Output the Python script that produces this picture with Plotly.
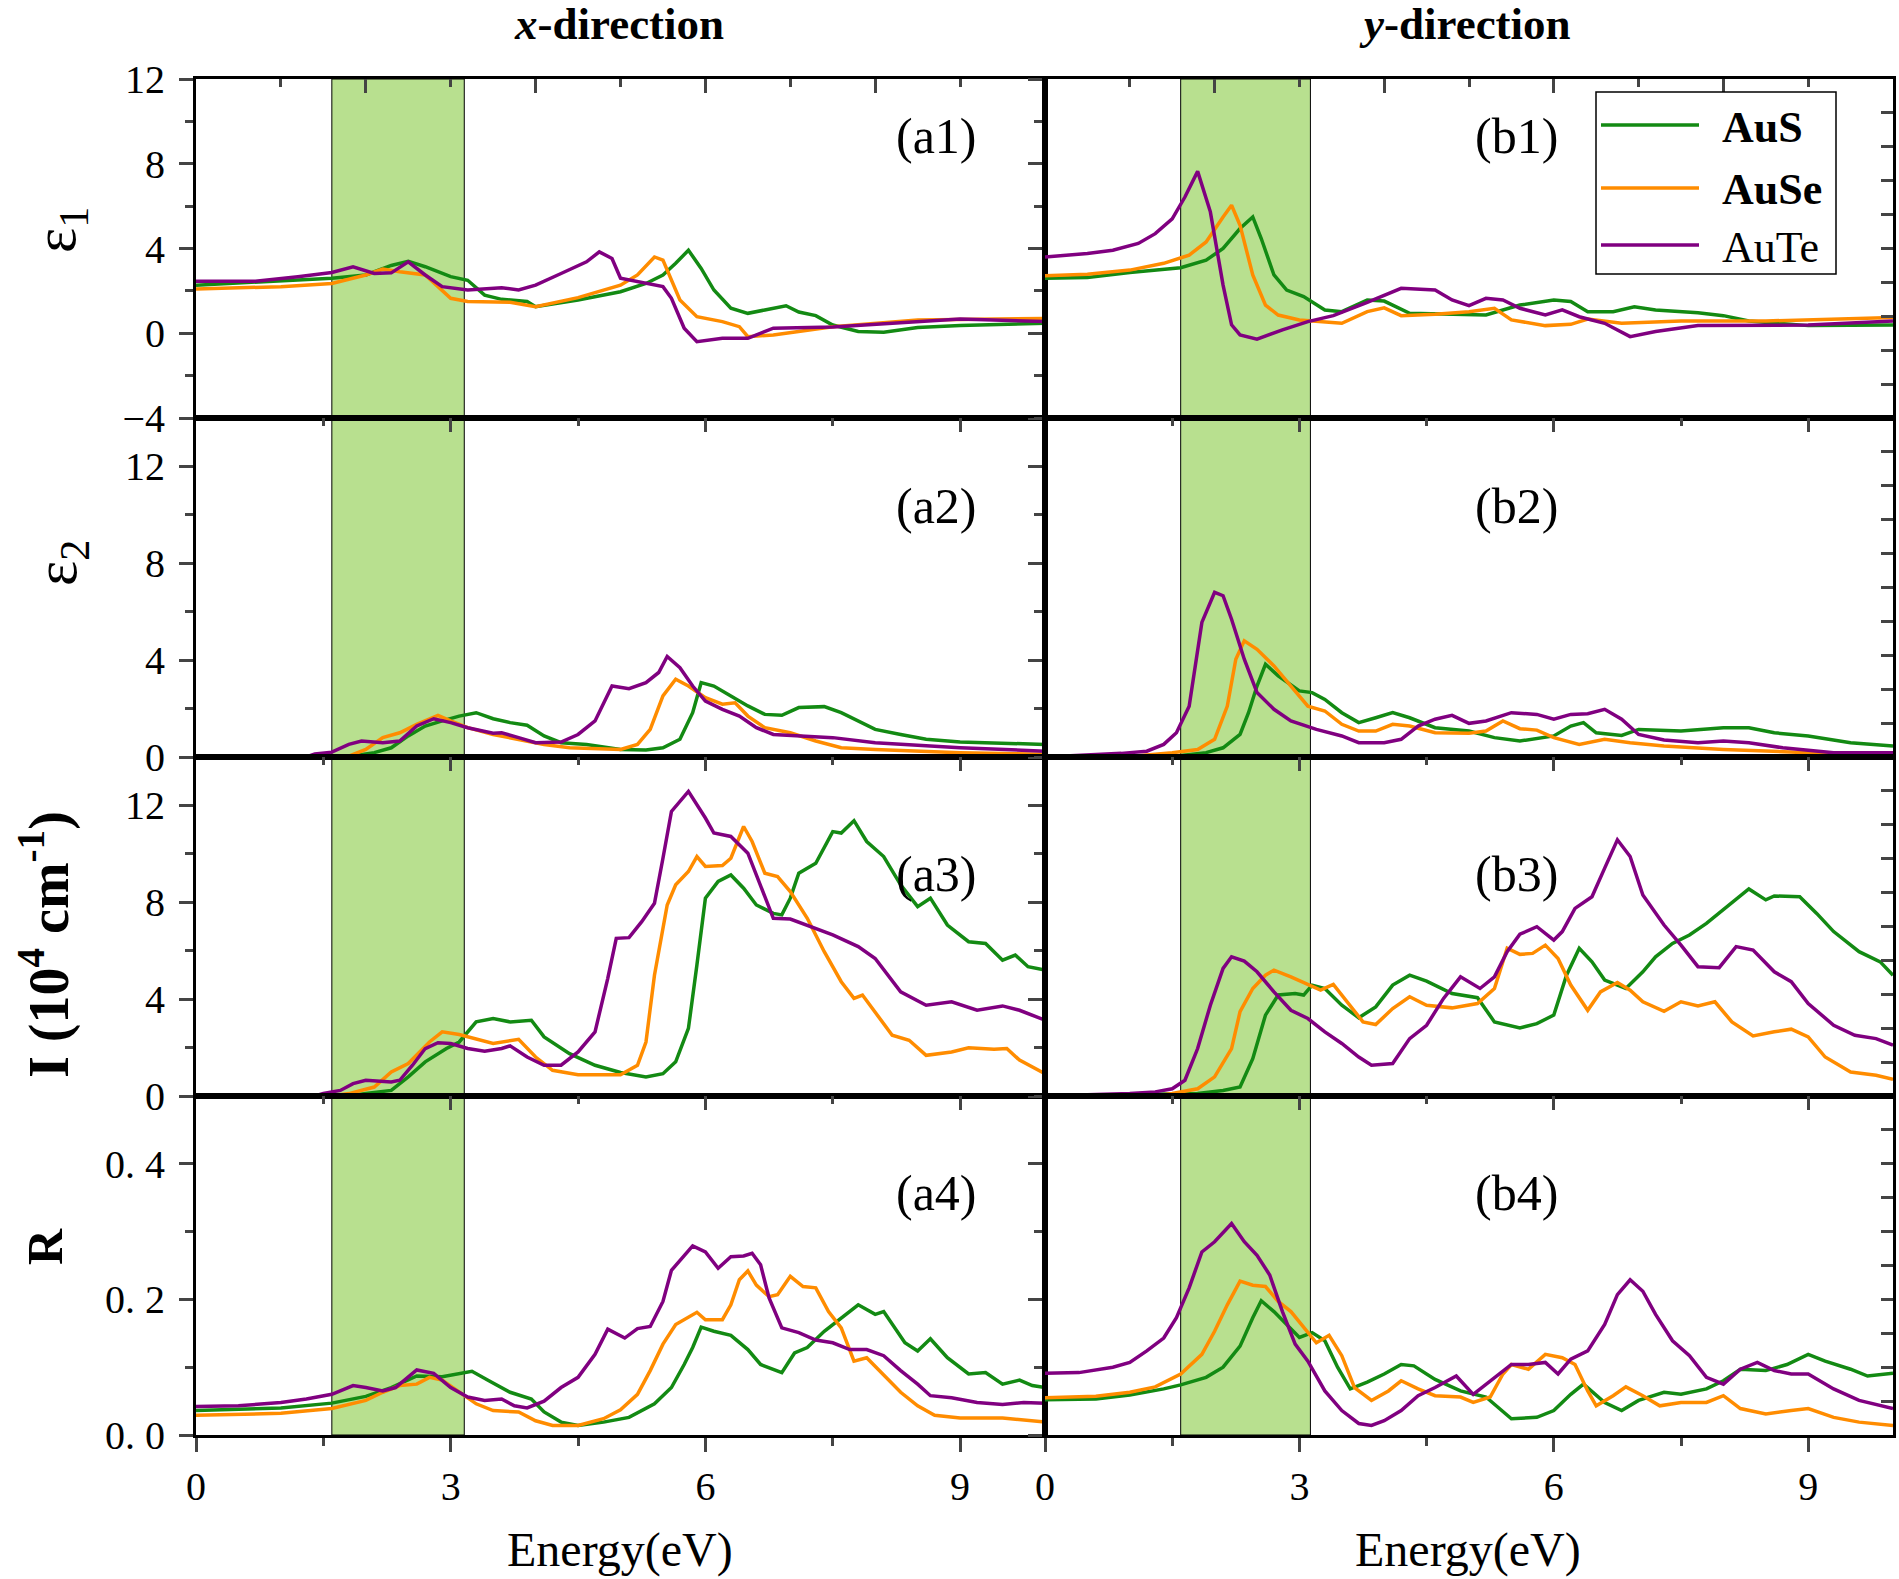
import plotly.graph_objects as go

# ---- data (energy in eV) ----
materials = ["AuS", "AuSe", "AuTe"]
legend_bold = [True, True, False]
colors = ["#138a13", "#ff8c00", "#800080"]

# (a1) eps1, x-direction
a1_aus_e = [0, 1.2, 1.6, 2.0, 2.3, 2.5, 2.7, 3.0, 3.2, 3.4, 3.6, 3.9, 4.0, 4.5, 5.0, 5.3, 5.5, 5.65, 5.8, 5.95, 6.1, 6.3, 6.5, 6.7, 6.95, 7.1, 7.3, 7.5, 7.8, 8.1, 8.5, 9.0, 10]
a1_aus = [2.27, 2.5, 2.6, 2.75, 3.2, 3.4, 3.14, 2.67, 2.5, 1.8, 1.6, 1.5, 1.25, 1.57, 1.96, 2.35, 2.75, 3.3, 3.92, 3.06, 2.04, 1.18, 0.94, 1.1, 1.3, 1.0, 0.83, 0.39, 0.08, 0.05, 0.27, 0.36, 0.47]
a1_ause_e = [0, 1.0, 1.6, 2.0, 2.2, 2.4, 2.7, 2.85, 3.0, 3.2, 3.7, 4.0, 4.5, 5.0, 5.2, 5.4, 5.5, 5.7, 5.9, 6.2, 6.4, 6.5, 6.8, 7.5, 8.5, 10]
a1_ause = [2.09, 2.2, 2.35, 2.75, 3.03, 2.9, 2.75, 2.2, 1.65, 1.5, 1.46, 1.25, 1.68, 2.27, 2.75, 3.6, 3.45, 1.57, 0.78, 0.55, 0.31, -0.16, -0.08, 0.31, 0.63, 0.7]
a1_aute_e = [0, 0.7, 1.2, 1.6, 1.85, 2.1, 2.3, 2.5, 2.7, 2.9, 3.2, 3.6, 3.8, 4.0, 4.3, 4.6, 4.75, 4.9, 5.0, 5.2, 5.5, 5.6, 5.75, 5.9, 6.2, 6.5, 6.8, 7.5, 8.5, 9.0, 10]
a1_aute = [2.45, 2.45, 2.67, 2.87, 3.14, 2.82, 2.85, 3.37, 2.75, 2.2, 2.04, 2.15, 2.04, 2.27, 2.82, 3.37, 3.84, 3.53, 2.6, 2.43, 2.2, 1.65, 0.24, -0.4, -0.24, -0.24, 0.24, 0.3, 0.55, 0.67, 0.55]

# (b1) eps1, y-direction
b1_aus_e = [0, 0.5, 1.0, 1.6, 1.9, 2.1, 2.3, 2.45, 2.55, 2.7, 2.85, 3.05, 3.3, 3.5, 3.8, 4.0, 4.3, 4.7, 5.2, 5.6, 6.0, 6.2, 6.4, 6.7, 6.95, 7.2, 7.7, 8.0, 8.3, 9.0, 10]
b1_aus = [2.59, 2.63, 2.87, 3.09, 3.45, 4.0, 4.94, 5.49, 4.47, 2.75, 2.04, 1.73, 1.1, 1.02, 1.57, 1.52, 0.94, 0.9, 0.86, 1.33, 1.57, 1.5, 1.02, 1.02, 1.25, 1.1, 0.97, 0.83, 0.58, 0.36, 0.39]
b1_ause_e = [0, 0.5, 1.0, 1.4, 1.7, 1.9, 2.1, 2.2, 2.3, 2.45, 2.6, 2.75, 3.0, 3.3, 3.5, 3.8, 4.0, 4.2, 4.6, 5.0, 5.3, 5.5, 5.9, 6.2, 6.4, 6.8, 7.5, 8.5, 10]
b1_ause = [2.71, 2.79, 2.98, 3.3, 3.69, 4.31, 5.49, 6.04, 5.1, 2.75, 1.33, 0.86, 0.63, 0.55, 0.47, 1.02, 1.2, 0.83, 0.9, 1.02, 1.18, 0.63, 0.36, 0.42, 0.67, 0.47, 0.58, 0.58, 0.74]
b1_aute_e = [0, 0.5, 0.8, 1.1, 1.3, 1.5, 1.65, 1.8, 1.95, 2.1, 2.2, 2.3, 2.5, 2.8, 3.1, 3.4, 3.8, 4.2, 4.6, 4.8, 5.0, 5.2, 5.4, 5.6, 5.9, 6.1, 6.3, 6.6, 6.9, 7.2, 7.7, 8.5, 9.0, 10]
b1_aute = [3.6, 3.76, 3.92, 4.24, 4.7, 5.4, 6.43, 7.64, 5.73, 2.27, 0.4, -0.08, -0.28, 0.16, 0.55, 0.83, 1.46, 2.12, 2.04, 1.57, 1.3, 1.65, 1.57, 1.18, 0.86, 1.1, 0.78, 0.47, -0.16, 0.08, 0.36, 0.39, 0.39, 0.58]

# (a2) eps2, x-direction
a2_aus_e = [0, 1.6, 1.8, 2.1, 2.3, 2.5, 2.7, 2.9, 3.1, 3.3, 3.5, 3.7, 3.9, 4.1, 4.3, 4.6, 5.0, 5.3, 5.5, 5.7, 5.85, 5.95, 6.1, 6.3, 6.5, 6.7, 6.9, 7.1, 7.4, 7.6, 7.8, 8.0, 8.3, 8.6, 9.0, 10]
a2_aus = [0, 0, 0.02, 0.18, 0.38, 0.87, 1.28, 1.49, 1.69, 1.83, 1.58, 1.42, 1.31, 0.87, 0.59, 0.52, 0.31, 0.29, 0.38, 0.73, 1.83, 3.07, 2.93, 2.52, 2.11, 1.76, 1.72, 2.04, 2.08, 1.83, 1.49, 1.14, 0.93, 0.73, 0.62, 0.52]
a2_ause_e = [0, 1.6, 1.8, 2.0, 2.2, 2.4, 2.6, 2.85, 3.0, 3.2, 3.5, 3.8, 4.1, 4.4, 5.0, 5.2, 5.35, 5.5, 5.65, 5.8, 6.0, 6.2, 6.35, 6.5, 6.7, 7.0, 7.3, 7.6, 8.0, 9.0, 10]
a2_ause = [0, 0, 0.04, 0.31, 0.8, 1.0, 1.35, 1.72, 1.49, 1.21, 0.93, 0.73, 0.52, 0.38, 0.31, 0.52, 1.14, 2.52, 3.21, 2.93, 2.45, 2.18, 2.24, 1.69, 1.21, 1.0, 0.66, 0.38, 0.31, 0.18, 0.11]
a2_aute_e = [0, 1.3, 1.4, 1.6, 1.8, 1.95, 2.2, 2.4, 2.6, 2.8, 3.0, 3.2, 3.5, 3.6, 3.8, 4.0, 4.3, 4.5, 4.7, 4.9, 5.1, 5.3, 5.45, 5.55, 5.7, 5.85, 6.0, 6.2, 6.4, 6.6, 6.8, 7.5, 8.0, 9.0, 10]
a2_aute = [0, 0, 0.13, 0.2, 0.52, 0.66, 0.59, 0.66, 1.28, 1.58, 1.42, 1.21, 0.98, 1.0, 0.8, 0.59, 0.62, 0.93, 1.49, 2.93, 2.82, 3.07, 3.49, 4.15, 3.69, 2.93, 2.31, 1.97, 1.69, 1.21, 0.93, 0.8, 0.59, 0.38, 0.24]

# (b2) eps2, y-direction
b2_aus_e = [0, 1.5, 1.9, 2.1, 2.3, 2.4, 2.5, 2.6, 2.75, 2.9, 3.0, 3.15, 3.3, 3.5, 3.7, 3.9, 4.1, 4.3, 4.6, 5.0, 5.3, 5.6, 6.0, 6.2, 6.35, 6.5, 6.8, 7.0, 7.5, 8.0, 8.3, 8.6, 9.0, 9.5, 10]
b2_aus = [0, 0.02, 0.18, 0.38, 0.93, 1.83, 2.93, 3.83, 3.35, 3.0, 2.73, 2.66, 2.38, 1.83, 1.42, 1.62, 1.83, 1.62, 1.21, 1.07, 0.8, 0.66, 0.87, 1.28, 1.42, 1.0, 0.89, 1.14, 1.07, 1.21, 1.21, 1.0, 0.87, 0.59, 0.45]
b2_ause_e = [0, 1.0, 1.5, 1.8, 2.0, 2.15, 2.25, 2.35, 2.5, 2.7, 2.9, 3.1, 3.3, 3.5, 3.7, 3.9, 4.1, 4.3, 4.6, 5.0, 5.2, 5.4, 5.6, 5.8, 6.0, 6.3, 6.6, 6.9, 7.3, 8.0, 9.0, 10]
b2_ause = [0, 0.02, 0.18, 0.31, 0.73, 2.1, 4.04, 4.8, 4.45, 3.76, 2.93, 2.1, 1.9, 1.35, 1.07, 1.07, 1.35, 1.28, 1.0, 0.98, 1.07, 1.49, 1.17, 1.11, 0.8, 0.52, 0.73, 0.59, 0.45, 0.31, 0.18, 0.07]
b2_aute_e = [0, 0.9, 1.2, 1.4, 1.55, 1.7, 1.85, 2.0, 2.1, 2.2, 2.35, 2.5, 2.7, 2.9, 3.2, 3.5, 3.7, 4.0, 4.2, 4.4, 4.6, 4.8, 5.0, 5.2, 5.5, 5.8, 6.0, 6.2, 6.4, 6.6, 6.8, 7.0, 7.3, 7.7, 8.0, 8.3, 8.7, 9.3, 10]
b2_aute = [0, 0.15, 0.24, 0.52, 1.0, 2.1, 5.56, 6.8, 6.66, 5.69, 4.04, 2.66, 1.97, 1.49, 1.14, 0.87, 0.59, 0.59, 0.73, 1.28, 1.56, 1.72, 1.39, 1.49, 1.83, 1.76, 1.56, 1.76, 1.79, 1.97, 1.56, 0.93, 0.7, 0.59, 0.66, 0.59, 0.38, 0.18, 0.18]

# (a3) absorption I (10^4 cm^-1), x-direction
a3_aus_e = [0, 1.8, 2.0, 2.3, 2.5, 2.7, 2.95, 3.1, 3.3, 3.5, 3.7, 3.95, 4.1, 4.4, 4.7, 5.0, 5.3, 5.5, 5.65, 5.8, 5.9, 6.0, 6.15, 6.3, 6.45, 6.6, 6.8, 6.9, 7.0, 7.1, 7.3, 7.5, 7.6, 7.75, 7.9, 8.1, 8.3, 8.5, 8.65, 8.85, 9.1, 9.3, 9.5, 9.65, 9.8, 10]
a3_aus = [0, 0, 0.1, 0.23, 0.79, 1.41, 1.96, 2.23, 3.06, 3.2, 3.06, 3.13, 2.44, 1.75, 1.27, 0.97, 0.79, 0.92, 1.41, 2.79, 5.41, 8.17, 8.86, 9.13, 8.58, 7.89, 7.54, 7.48, 8.17, 9.2, 9.61, 10.92, 10.86, 11.37, 10.51, 9.89, 8.72, 7.82, 8.17, 7.06, 6.37, 6.3, 5.61, 5.82, 5.34, 5.2]
a3_ause_e = [0, 1.6, 1.8, 2.1, 2.3, 2.5, 2.75, 2.9, 3.1, 3.3, 3.5, 3.8, 4.0, 4.2, 4.5, 5.0, 5.2, 5.3, 5.4, 5.55, 5.65, 5.8, 5.9, 6.0, 6.2, 6.3, 6.45, 6.55, 6.7, 6.85, 7.0, 7.2, 7.4, 7.6, 7.75, 7.85, 8.0, 8.2, 8.4, 8.6, 8.9, 9.1, 9.4, 9.55, 9.7, 10]
a3_ause = [0, 0, 0.1, 0.37, 0.99, 1.34, 2.23, 2.65, 2.54, 2.34, 2.17, 2.34, 1.61, 1.06, 0.88, 0.88, 1.27, 2.23, 4.99, 7.89, 8.72, 9.27, 9.89, 9.48, 9.52, 9.82, 11.13, 10.51, 9.2, 9.06, 8.44, 7.34, 5.96, 4.72, 4.03, 4.17, 3.48, 2.51, 2.3, 1.68, 1.82, 1.99, 1.93, 1.96, 1.48, 0.92]
a3_aute_e = [0, 1.4, 1.5, 1.7, 1.85, 2.0, 2.3, 2.4, 2.55, 2.7, 2.85, 3.0, 3.2, 3.4, 3.6, 3.7, 3.9, 4.1, 4.3, 4.5, 4.7, 4.85, 4.95, 5.1, 5.25, 5.4, 5.5, 5.6, 5.8, 6.0, 6.1, 6.3, 6.5, 6.65, 6.8, 7.0, 7.3, 7.5, 7.8, 8.0, 8.3, 8.6, 8.9, 9.2, 9.5, 9.7, 10]
a3_aute = [0, 0, 0.1, 0.23, 0.51, 0.65, 0.58, 0.65, 1.27, 1.96, 2.2, 2.17, 1.96, 1.85, 1.96, 2.07, 1.61, 1.27, 1.27, 1.82, 2.65, 4.86, 6.51, 6.54, 7.2, 7.96, 9.82, 11.75, 12.58, 11.48, 10.86, 10.72, 10.03, 8.72, 7.34, 7.31, 6.92, 6.65, 6.17, 5.68, 4.3, 3.75, 3.89, 3.54, 3.72, 3.54, 3.13]

# (b3) absorption I, y-direction
b3_aus_e = [0, 1.8, 2.1, 2.3, 2.45, 2.6, 2.75, 2.95, 3.05, 3.15, 3.3, 3.5, 3.7, 3.9, 4.1, 4.3, 4.5, 4.8, 5.1, 5.3, 5.6, 5.8, 6.0, 6.15, 6.3, 6.45, 6.6, 6.85, 7.05, 7.2, 7.4, 7.6, 7.8, 8.0, 8.3, 8.5, 8.6, 8.9, 9.1, 9.3, 9.6, 9.85, 10]
b3_aus = [0, 0.1, 0.23, 0.37, 1.54, 3.34, 4.17, 4.23, 4.17, 4.58, 4.44, 3.75, 3.23, 3.68, 4.58, 4.99, 4.74, 4.23, 4.06, 3.06, 2.81, 2.99, 3.34, 4.99, 6.1, 5.54, 4.79, 4.44, 5.13, 5.75, 6.3, 6.65, 7.13, 7.68, 8.55, 8.1, 8.26, 8.23, 7.54, 6.79, 5.96, 5.54, 4.99]
b3_ause_e = [0, 1.3, 1.5, 1.8, 2.0, 2.2, 2.3, 2.45, 2.6, 2.7, 2.9, 3.1, 3.25, 3.4, 3.6, 3.75, 3.9, 4.1, 4.3, 4.5, 4.8, 5.1, 5.3, 5.45, 5.6, 5.75, 5.9, 6.05, 6.2, 6.4, 6.55, 6.75, 6.9, 7.05, 7.3, 7.5, 7.7, 7.9, 8.1, 8.35, 8.6, 8.8, 9.0, 9.2, 9.5, 9.8, 10]
b3_ause = [0, 0, 0.1, 0.3, 0.79, 1.96, 3.48, 4.44, 4.99, 5.2, 4.92, 4.61, 4.37, 4.61, 3.75, 3.06, 2.95, 3.61, 4.1, 3.75, 3.64, 3.82, 4.44, 6.1, 5.85, 5.89, 6.23, 5.68, 4.58, 3.54, 4.3, 4.69, 4.37, 3.89, 3.5, 3.89, 3.72, 3.89, 3.06, 2.48, 2.65, 2.76, 2.44, 1.61, 0.99, 0.86, 0.69]
b3_aute_e = [0, 1.0, 1.3, 1.5, 1.65, 1.8, 1.95, 2.1, 2.2, 2.35, 2.5, 2.7, 2.9, 3.1, 3.3, 3.5, 3.7, 3.85, 4.1, 4.3, 4.5, 4.7, 4.9, 5.13, 5.3, 5.45, 5.6, 5.8, 6.0, 6.1, 6.25, 6.45, 6.6, 6.75, 6.9, 7.05, 7.3, 7.5, 7.7, 7.95, 8.15, 8.35, 8.6, 8.8, 9.0, 9.3, 9.55, 9.8, 10]
b3_aute = [0, 0.1, 0.17, 0.3, 0.65, 1.96, 3.75, 5.27, 5.75, 5.57, 5.13, 4.3, 3.54, 3.2, 2.65, 2.17, 1.61, 1.27, 1.34, 2.37, 2.92, 4.03, 4.92, 4.44, 4.92, 5.96, 6.68, 6.99, 6.44, 6.79, 7.75, 8.23, 9.41, 10.58, 9.89, 8.3, 7.06, 6.23, 5.34, 5.3, 6.17, 6.03, 5.13, 4.72, 3.82, 2.92, 2.51, 2.37, 2.1]

# (a4) reflectivity R, x-direction
a4_aus_e = [0, 1.0, 1.6, 2.0, 2.3, 2.6, 2.9, 3.1, 3.25, 3.45, 3.7, 3.95, 4.1, 4.3, 4.5, 4.8, 5.1, 5.4, 5.6, 5.75, 5.85, 5.95, 6.1, 6.3, 6.5, 6.65, 6.8, 6.9, 7.05, 7.2, 7.4, 7.5, 7.6, 7.8, 8.0, 8.1, 8.35, 8.5, 8.65, 8.85, 9.1, 9.3, 9.5, 9.7, 9.85, 10]
a4_aus = [0.036, 0.04, 0.047, 0.057, 0.07, 0.087, 0.086, 0.09, 0.094, 0.08, 0.063, 0.053, 0.034, 0.019, 0.014, 0.019, 0.026, 0.046, 0.07, 0.104, 0.129, 0.159, 0.153, 0.147, 0.126, 0.104, 0.097, 0.092, 0.121, 0.129, 0.153, 0.163, 0.173, 0.192, 0.178, 0.182, 0.136, 0.124, 0.142, 0.114, 0.09, 0.092, 0.075, 0.081, 0.073, 0.07]
a4_ause_e = [0, 1.0, 1.6, 2.0, 2.2, 2.4, 2.6, 2.75, 2.9, 3.1, 3.3, 3.5, 3.8, 4.0, 4.2, 4.5, 4.8, 5.0, 5.2, 5.35, 5.5, 5.65, 5.8, 5.9, 6.0, 6.2, 6.3, 6.4, 6.5, 6.6, 6.75, 6.85, 7.0, 7.15, 7.3, 7.45, 7.6, 7.75, 7.9, 8.05, 8.3, 8.5, 8.7, 9.0, 9.5, 10]
a4_ause = [0.029, 0.032, 0.039, 0.051, 0.063, 0.073, 0.075, 0.085, 0.081, 0.063, 0.046, 0.036, 0.034, 0.021, 0.014, 0.014, 0.024, 0.037, 0.06, 0.095, 0.134, 0.163, 0.174, 0.181, 0.17, 0.17, 0.192, 0.229, 0.242, 0.221, 0.204, 0.207, 0.234, 0.219, 0.217, 0.182, 0.158, 0.109, 0.114, 0.095, 0.063, 0.043, 0.029, 0.025, 0.025, 0.019]
a4_aute_e = [0, 0.5, 1.0, 1.3, 1.6, 1.75, 1.85, 2.0, 2.2, 2.35, 2.5, 2.6, 2.8, 3.0, 3.2, 3.4, 3.6, 3.75, 3.9, 4.1, 4.3, 4.5, 4.7, 4.85, 5.05, 5.2, 5.35, 5.5, 5.6, 5.75, 5.85, 6.0, 6.15, 6.3, 6.45, 6.55, 6.65, 6.75, 6.9, 7.1, 7.3, 7.5, 7.7, 7.9, 8.1, 8.3, 8.5, 8.65, 8.9, 9.2, 9.5, 9.75, 10]
a4_aute = [0.042, 0.043, 0.048, 0.053, 0.06, 0.068, 0.073, 0.07, 0.065, 0.07, 0.085, 0.096, 0.091, 0.07, 0.056, 0.051, 0.053, 0.043, 0.04, 0.05, 0.07, 0.085, 0.119, 0.156, 0.143, 0.157, 0.16, 0.197, 0.243, 0.265, 0.279, 0.27, 0.246, 0.263, 0.264, 0.268, 0.251, 0.202, 0.158, 0.151, 0.14, 0.136, 0.126, 0.126, 0.117, 0.095, 0.075, 0.058, 0.055, 0.048, 0.045, 0.048, 0.047]

# (b4) reflectivity R, y-direction
b4_aus_e = [0, 0.6, 1.0, 1.4, 1.6, 1.9, 2.1, 2.3, 2.45, 2.55, 2.7, 2.85, 3.0, 3.15, 3.3, 3.45, 3.6, 3.8, 4.0, 4.2, 4.35, 4.6, 4.9, 5.2, 5.5, 5.8, 6.0, 6.2, 6.35, 6.6, 6.8, 7.0, 7.3, 7.5, 7.8, 8.0, 8.2, 8.5, 8.75, 9.0, 9.2, 9.5, 9.7, 10]
b4_aus = [0.052, 0.053, 0.059, 0.068, 0.074, 0.085, 0.1, 0.131, 0.173, 0.198, 0.182, 0.163, 0.144, 0.151, 0.139, 0.1, 0.068, 0.078, 0.09, 0.104, 0.102, 0.082, 0.065, 0.056, 0.024, 0.026, 0.036, 0.06, 0.075, 0.048, 0.036, 0.051, 0.063, 0.06, 0.068, 0.08, 0.097, 0.095, 0.104, 0.119, 0.109, 0.097, 0.087, 0.091]
b4_ause_e = [0, 0.6, 1.0, 1.3, 1.6, 1.85, 2.0, 2.15, 2.3, 2.45, 2.6, 2.75, 2.9, 3.05, 3.2, 3.35, 3.5, 3.65, 3.85, 4.05, 4.2, 4.4, 4.6, 4.9, 5.05, 5.25, 5.4, 5.5, 5.7, 5.9, 6.1, 6.25, 6.4, 6.5, 6.7, 6.85, 7.05, 7.25, 7.5, 7.8, 8.0, 8.2, 8.5, 8.8, 9.0, 9.3, 9.6, 10]
b4_ause = [0.055, 0.057, 0.063, 0.071, 0.09, 0.119, 0.153, 0.192, 0.227, 0.221, 0.219, 0.197, 0.182, 0.158, 0.136, 0.147, 0.117, 0.07, 0.051, 0.065, 0.08, 0.068, 0.058, 0.056, 0.048, 0.056, 0.09, 0.104, 0.097, 0.119, 0.114, 0.104, 0.065, 0.043, 0.058, 0.071, 0.058, 0.043, 0.048, 0.048, 0.058, 0.039, 0.031, 0.036, 0.039, 0.026, 0.019, 0.014]
b4_aute_e = [0, 0.4, 0.8, 1.0, 1.2, 1.4, 1.55, 1.7, 1.85, 2.0, 2.2, 2.35, 2.5, 2.65, 2.8, 2.95, 3.1, 3.3, 3.5, 3.7, 3.85, 4.0, 4.2, 4.4, 4.6, 4.85, 5.05, 5.3, 5.5, 5.7, 5.9, 6.05, 6.2, 6.4, 6.6, 6.75, 6.9, 7.05, 7.2, 7.4, 7.6, 7.8, 8.0, 8.2, 8.4, 8.6, 8.8, 9.0, 9.3, 9.6, 10]
b4_aute = [0.091, 0.092, 0.1, 0.107, 0.124, 0.143, 0.173, 0.217, 0.27, 0.285, 0.312, 0.285, 0.265, 0.236, 0.182, 0.134, 0.109, 0.065, 0.036, 0.017, 0.014, 0.021, 0.036, 0.058, 0.07, 0.087, 0.06, 0.085, 0.104, 0.104, 0.107, 0.09, 0.112, 0.124, 0.163, 0.207, 0.229, 0.212, 0.178, 0.139, 0.117, 0.085, 0.075, 0.097, 0.107, 0.095, 0.09, 0.09, 0.068, 0.051, 0.039]

panels = [
    [(a1_aus_e, a1_aus), (a1_ause_e, a1_ause), (a1_aute_e, a1_aute)],
    [(b1_aus_e, b1_aus), (b1_ause_e, b1_ause), (b1_aute_e, b1_aute)],
    [(a2_aus_e, a2_aus), (a2_ause_e, a2_ause), (a2_aute_e, a2_aute)],
    [(b2_aus_e, b2_aus), (b2_ause_e, b2_ause), (b2_aute_e, b2_aute)],
    [(a3_aus_e, a3_aus), (a3_ause_e, a3_ause), (a3_aute_e, a3_aute)],
    [(b3_aus_e, b3_aus), (b3_ause_e, b3_ause), (b3_aute_e, b3_aute)],
    [(a4_aus_e, a4_aus), (a4_ause_e, a4_ause), (a4_aute_e, a4_aute)],
    [(b4_aus_e, b4_aus), (b4_ause_e, b4_ause), (b4_aute_e, b4_aute)],
]
panel_tags = ["(a1)", "(b1)", "(a2)", "(b2)", "(a3)", "(b3)", "(a4)", "(b4)"]

y_ranges = [[-4, 12], [0, 14], [0, 14], [0, 0.5]]
y_tickvals = [[-4, 0, 4, 8, 12], [0, 4, 8, 12], [0, 4, 8, 12], [0, 0.2, 0.4]]
y_ticktext = [["\u22124", "0", "4", "8", "12"], ["0", "4", "8", "12"], ["0", "4", "8", "12"], ["0. 0", "0. 2", "0. 4"]]
y_minor = [2, 2, 2, 0.1]
y_titles = ["\u03b5<sub>1</sub>", "\u03b5<sub>2</sub>", "<b>I (10<sup>4</sup> cm<sup>-1</sup>)</b>", "<b>R</b>"]
y_title_size = [60, 60, 56, 50]
x_ticks = [0, 3, 6, 9]
vis_band = [[1.6, 3.16], [1.6, 3.13]]

# ---- layout geometry ----
W, H = 1899, 1579
col_dom = [[196 / W, 1045 / W], [1045 / W, 1893 / W]]
row_px = [(79, 418), (418, 757), (757, 1096), (1096, 1435)]
row_dom = [[1 - b / H, 1 - t / H] for t, b in row_px]

FONT = "Liberation Serif"
AXW = 3


def note(x, y, text, size, **kw):
    d = dict(xref="paper", yref="paper", x=x / W, y=1 - y / H, text=text,
             showarrow=False, xanchor="center", yanchor="middle",
             font=dict(family=FONT, size=size))
    d.update(kw)
    return d


fig = go.Figure()
layout = dict(width=W, height=H, margin=dict(l=0, r=0, t=0, b=0, autoexpand=False),
              paper_bgcolor="white", plot_bgcolor="white", showlegend=False,
              font=dict(family=FONT, size=40, color="black"))
shapes = []
annotations = []

for k in range(8):
    r, c = k // 2, k % 2
    n = k + 1
    xs = "x" if n == 1 else "x%d" % n
    ys = "y" if n == 1 else "y%d" % n
    xkey = "xaxis" if n == 1 else "xaxis%d" % n
    ykey = "yaxis" if n == 1 else "yaxis%d" % n

    for (e, v), name, col in zip(panels[k], materials, colors):
        fig.add_trace(go.Scatter(x=e, y=v, mode="lines", name=name,
                                 line=dict(color=col, width=3.5),
                                 xaxis=xs, yaxis=ys, hoverinfo="skip"))

    bottom = r == 3
    layout[xkey] = dict(domain=col_dom[c], anchor=ys, range=[0, 10], automargin=False,
                        showline=True, linewidth=AXW, linecolor="black", mirror=True,
                        showgrid=False, zeroline=False,
                        ticks="outside" if bottom else "", tickvals=x_ticks if bottom else None,
                        ticklen=14, tickwidth=AXW, showticklabels=bottom,
                        ticklabelstandoff=0,
                        tickfont=dict(family=FONT, size=40),
                        minor=dict(dtick=1.5, ticks="outside", ticklen=8, tickwidth=AXW) if bottom else None)
    layout[ykey] = dict(domain=row_dom[r], anchor=xs, range=y_ranges[r], automargin=False,
                        showline=True, linewidth=AXW, linecolor="black", mirror=True,
                        showgrid=False, zeroline=False,
                        ticks="outside", ticklen=14, tickwidth=AXW,
                        tickvals=y_tickvals[r], ticktext=y_ticktext[r],
                        showticklabels=(c == 0), ticklabelstandoff=6,
                        tickfont=dict(family=FONT, size=40),
                        minor=dict(dtick=y_minor[r], ticks="outside", ticklen=8, tickwidth=AXW))

    # top inside ticks
    nt = 8 + n
    layout["xaxis%d" % nt] = dict(overlaying=xs, anchor=ys, side="top", range=[0, 10],
                                  automargin=False,
                                  showline=False, showgrid=False, zeroline=False,
                                  ticks="inside", ticklen=14, tickwidth=AXW,
                                  dtick=2 if r == 0 else 3, tick0=0, showticklabels=False,
                                  minor=dict(dtick=1 if r == 0 else 1.5, ticks="inside",
                                             ticklen=8, tickwidth=AXW))
    fig.add_trace(go.Scatter(x=[None], y=[None], xaxis="x%d" % nt, yaxis=ys,
                             showlegend=False, hoverinfo="skip"))

    # right side inside ticks on the y-direction column
    if c == 1:
        layout["yaxis%d" % nt] = dict(overlaying=ys, anchor=xs, side="right", range=[0, 10],
                                      automargin=False,
                                      showline=False, showgrid=False, zeroline=False,
                                      ticks="inside", ticklen=12, tickwidth=AXW,
                                      dtick=1, showticklabels=False)
        fig.add_trace(go.Scatter(x=[None], y=[None], xaxis=xs, yaxis="y%d" % nt,
                                 showlegend=False, hoverinfo="skip"))

    # visible-light band
    lo, hi = vis_band[c]
    shapes.append(dict(type="rect", xref=xs, yref=ys + " domain", x0=lo, x1=hi, y0=0, y1=1,
                       fillcolor="#b8e08f", line=dict(color="black", width=1), layer="below"))

    # panel tag
    annotations.append(note([936, 1516][c], [136, 506, 874, 1193][r], panel_tags[k], 50))

# column titles and x labels
for cx, lab in zip([619, 1465], ["<b><i>x</i>-direction</b>", "<b><i>y</i>-direction</b>"]):
    annotations.append(note(cx, 24, lab, 45))
for cx in [620, 1468]:
    annotations.append(note(cx, 1550, "Energy(eV)", 48))

# y titles
for (tx, ty), lab, fs in zip([(60, 230), (60, 563), (45, 945), (45, 1247)], y_titles, y_title_size):
    annotations.append(note(tx, ty, lab, fs, textangle=-90))

# legend box in panel (b1)
shapes.append(dict(type="rect", xref="paper", yref="paper",
                   x0=1596 / W, x1=1836 / W, y0=1 - 274 / H, y1=1 - 92 / H,
                   line=dict(color="black", width=1.5), fillcolor="white", layer="above"))
for i, (name, col, bold) in enumerate(zip(materials, colors, legend_bold)):
    ly = [125, 188, 245][i]
    shapes.append(dict(type="line", xref="paper", yref="paper",
                       x0=1601 / W, x1=1699 / W, y0=1 - ly / H, y1=1 - ly / H,
                       line=dict(color=col, width=3.5), layer="above"))
    annotations.append(note(1720, ly + 2, "<b>%s</b>" % name if bold else name, 44,
                            xanchor="left"))

layout["shapes"] = shapes
layout["annotations"] = annotations
fig.update_layout(**layout)

fig.write_html("out.html", config={"displayModeBar": False},
               post_script="document.body.style.margin='0';")
